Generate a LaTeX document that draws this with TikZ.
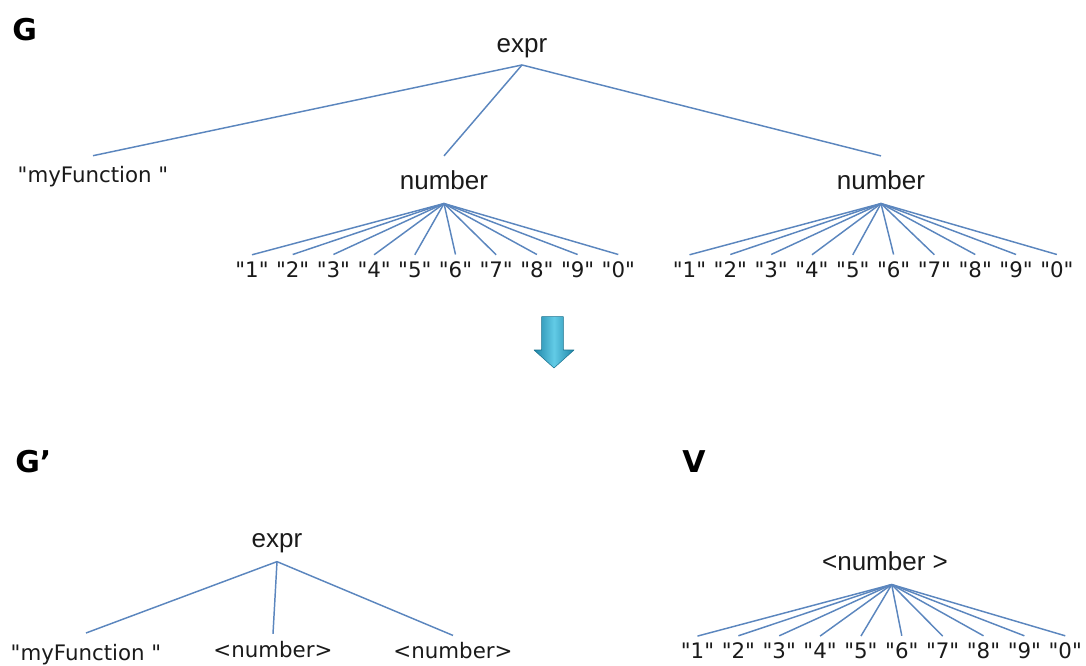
\documentclass[tikz,border=0pt]{standalone}
\usepackage{fontspec}
\setmainfont{DejaVu Sans}
\newfontfamily\leaffont{DejaVu Sans}[Ligatures=TeXOff]
\newfontfamily\arialfam{Liberation Sans}[Ligatures=TeXOff]
\definecolor{edge}{HTML}{5B86BE}
\definecolor{ink}{HTML}{1A1A1A}
\definecolor{arrowmid}{HTML}{62CBE6}
\definecolor{arrowside}{HTML}{1F86A8}

\begin{document}
\begin{tikzpicture}[x=0.75pt,y=-0.75pt,
  edgeline/.style={draw=edge,line width=1.1pt},
  title/.style={font=\fontsize{22.5pt}{26pt}\selectfont\bfseries,anchor=base west,inner sep=0pt,text=black},
  inner/.style={font=\arialfam\fontsize{19.5pt}{23pt}\selectfont,anchor=base,text=ink,inner xsep=0pt},
  leaf/.style={font=\leaffont\fontsize{16pt}{19pt}\selectfont,anchor=base,text=ink,inner xsep=0pt},
]
\useasboundingbox (0,0) rectangle (1086,665);

% section titles
\node[title] (tG) at (12,40) {G};
\node[title] (tGp) at (15,472) {G’};
\node[title] (tV) at (682,472) {V};

% grammar tree G
\node[inner, inner ysep=5.25pt] (e1) at (522,52.3) {expr};
\node[leaf, inner ysep=7.9pt] (mf1) at (93,182.7) {"myFunction "};
\node[inner, inner ysep=10.5pt] (n1) at (444,189) {number};
\node[inner, inner ysep=10.5pt] (n2) at (881,189) {number};
\draw[edgeline] (e1.south) -- (mf1.north);
\draw[edgeline] (e1.south) -- (n1.north);
\draw[edgeline] (e1.south) -- (n2.north);

\foreach \d [count=\i from 0] in {1,2,3,4,5,6,7,8,9,0} {
  \node[leaf, inner ysep=4.8pt] (a\i) at ({252+40.7*\i},277) {"\d"};
  \draw[edgeline] (n1.south) -- (a\i.north);
  \node[leaf, inner ysep=4.8pt] (b\i) at ({689.5+40.82*\i},277) {"\d"};
  \draw[edgeline] (n2.south) -- (b\i.north);
}

% transformation arrow
\shadedraw[left color=arrowside, right color=arrowside, middle color=arrowmid,
  draw=arrowside!85!black, line width=0.4pt, line join=round]
  (541.7,316.7) -- (563.3,316.7) -- (563.3,350) -- (574,350) -- (554,368)
  -- (534,350) -- (541.7,350) -- cycle;

% reduced tree G'
\node[inner, inner ysep=6.5pt] (e2) at (277,547.3) {expr};
\node[leaf, inner ysep=7.9pt] (mf2) at (86,660) {"myFunction "};
\node[leaf, inner ysep=5pt] (r1) at (273,657) {<number>};
\node[leaf, inner ysep=4.8pt] (r2) at (453,658.3) {<number>};
\draw[edgeline] (e2.south) -- (mf2.north);
\draw[edgeline] (e2.south) -- (r1.north);
\draw[edgeline] (e2.south) -- (r2.north);

% vocabulary tree V
\node[inner, inner ysep=10.5pt] (vn) at (885,570) {<number >};
\coordinate (vroot) at ([xshift=5pt]vn.south);
\foreach \d [count=\i from 0] in {1,2,3,4,5,6,7,8,9,0} {
  \node[leaf, inner ysep=4.8pt] (c\i) at ({697.5+40.86*\i},658.3) {"\d"};
  \draw[edgeline] (vroot) -- (c\i.north);
}
\end{tikzpicture}
\end{document}
